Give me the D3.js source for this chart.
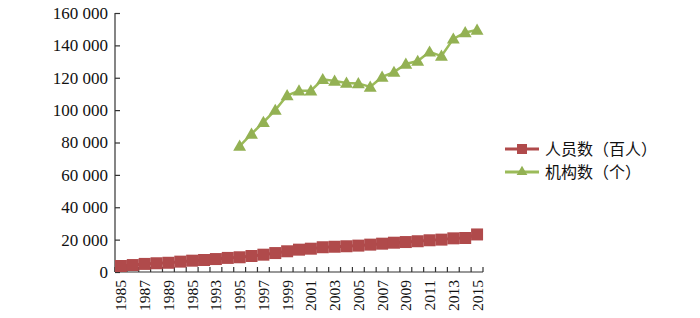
<!DOCTYPE html>
<html>
<head>
<meta charset="utf-8">
<script src="https://cdn.jsdelivr.net/npm/d3@7"></script>
<style>
  body { margin: 0; background: #fff; }
  svg { display: block; }
</style>
</head>
<body>
<svg id="chart" width="700" height="318"></svg>
<script>
// ---- data ----
const years = d3.range(1985, 2016); // 1985..2015 categories
const tickYears = [1985, 1987, 1989, 1991, 1993, 1995, 1997, 1999, 2001, 2003, 2005, 2007, 2009, 2011, 2013, 2015];
const tickLabels = ["1985", "1987", "1989", "1985", "1993", "1995", "1997", "1999", "2001", "2003", "2005", "2007", "2009", "2011", "2013", "2015"];
const staffValues = [3700, 4300, 5000, 5400, 5700, 6400, 7000, 7400, 8000, 8700, 9100, 9900, 10700, 11700, 12800, 13800, 14400, 15300, 15600, 15900, 16300, 16900, 17500, 18100, 18500, 19000, 19600, 20000, 20800, 21000, 23200];
const orgYears = d3.range(1995, 2016);
const orgValues = [77800, 85300, 92500, 100000, 109000, 112000, 112000, 119000, 118000, 116800, 116500, 114300, 120500, 123500, 128500, 130300, 136000, 133400, 144000, 148000, 149500];
const yTicks = [0, 20000, 40000, 60000, 80000, 100000, 120000, 140000, 160000];
const seriesNames = ["人员数（百人）", "机构数（个）"];

const staffColor = "#B04A4B";
const orgLineColor = "#9BBB59";
const orgMarkColor = "#93B153";
const serif = "'Liberation Serif', 'Times New Roman', serif";

const svg = d3.select("#chart");
const x = d3.scaleBand().domain(years).range([115, 483]).padding(0);
const y = d3.scaleLinear().domain([0, 160000]).range([272, 13]);
const cx = d => x(d) + x.bandwidth() / 2;

const fmt = v => {
  const s = String(v);
  return s.length > 3 ? s.slice(0, s.length - 3) + " " + s.slice(-3) : s;
};

// y axis
const yAxis = svg.append("g")
  .attr("transform", "translate(115,0)")
  .call(d3.axisLeft(y).tickValues(yTicks).tickSize(-5).tickPadding(7).tickFormat(fmt));
yAxis.select(".domain").attr("stroke", "#333").attr("stroke-width", 1.2).attr("d", `M0,${y(160000)}V${y(0)}`);
yAxis.selectAll(".tick line").attr("stroke", "#333").attr("stroke-width", 1.2);
yAxis.selectAll("text")
  .style("font-family", serif)
  .attr("font-size", 17).attr("fill", "#111");

// x axis
const xAxis = svg.append("g")
  .attr("transform", `translate(0,${y(0)})`)
  .call(d3.axisBottom(x).tickValues(tickYears).tickSize(0).tickPadding(0)
    .tickFormat(d => tickLabels[tickYears.indexOf(d)]));
xAxis.select(".domain").attr("stroke", "#333").attr("stroke-width", 1.2).attr("d", `M115,0H483`);
xAxis.selectAll("text")
  .style("font-family", serif)
  .attr("font-size", 15.5).attr("fill", "#111")
  .attr("transform", "rotate(-90)")
  .attr("text-anchor", "end")
  .attr("x", -8).attr("y", 0).attr("dy", "0.35em");

// x tick marks at band boundaries (inside)
const boundaries = years.map(d => x(d)).concat([x(years[years.length - 1]) + x.bandwidth()]);
svg.append("g").selectAll("line").data(boundaries).join("line")
  .attr("x1", d => d).attr("x2", d => d)
  .attr("y1", y(0)).attr("y2", y(0) - 5)
  .attr("stroke", "#333").attr("stroke-width", 1.2);

// staff series
const staffData = years.map((yr, i) => ({ yr, v: staffValues[i] }));
svg.append("path").datum(staffData)
  .attr("fill", "none").attr("stroke", staffColor).attr("stroke-width", 3)
  .attr("d", d3.line().x(d => cx(d.yr)).y(d => y(d.v)));
svg.append("g").selectAll("path").data(staffData).join("path")
  .attr("transform", d => `translate(${cx(d.yr)},${y(d.v)})`)
  .attr("d", d3.symbol(d3.symbolSquare, 144)())
  .attr("fill", staffColor);

// org series
const orgData = orgYears.map((yr, i) => ({ yr, v: orgValues[i] }));
svg.append("path").datum(orgData)
  .attr("fill", "none").attr("stroke", orgLineColor).attr("stroke-width", 2.5)
  .attr("d", d3.line().x(d => cx(d.yr)).y(d => y(d.v)));
svg.append("g").selectAll("path").data(orgData).join("path")
  .attr("transform", d => `translate(${cx(d.yr)},${y(d.v) + 1})`)
  .attr("d", d3.symbol(d3.symbolTriangle, 72)())
  .attr("fill", orgMarkColor);

// legend
const legend = svg.append("g");
const rows = [
  { name: seriesNames[0], color: staffColor, mark: staffColor, sym: d3.symbolSquare, size: 100, yy: 149 },
  { name: seriesNames[1], color: orgLineColor, mark: orgMarkColor, sym: d3.symbolTriangle, size: 50, yy: 172 }
];
rows.forEach(r => {
  legend.append("line").attr("x1", 505).attr("x2", 539).attr("y1", r.yy).attr("y2", r.yy)
    .attr("stroke", r.color).attr("stroke-width", 3);
  legend.append("path").attr("transform", `translate(522,${r.yy})`)
    .attr("d", d3.symbol(r.sym, r.size)()).attr("fill", r.mark);
  legend.append("text").attr("x", 545).attr("y", r.yy).attr("dy", "0.36em")
    .style("font-family", "'Noto Sans CJK SC', sans-serif").attr("font-size", 16)
    .attr("fill", "#111").text(r.name);
});
</script>
</body>
</html>
